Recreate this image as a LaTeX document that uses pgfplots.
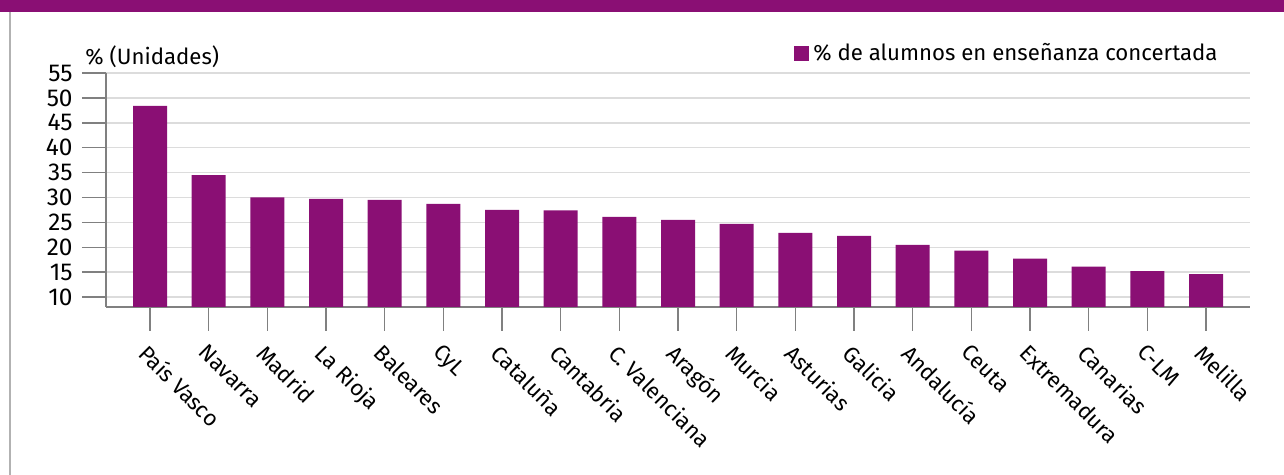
\documentclass[border=0pt]{standalone}
\usepackage{fontspec}
\setmainfont{Fira Sans}
\usepackage{pgfplots}
\pgfplotsset{compat=1.18}
\definecolor{barc}{HTML}{8A0F74}
\definecolor{gridc}{HTML}{DCDCDC}
\definecolor{axc}{HTML}{808080}
\newcommand\lf{\fontsize{11.1}{13}\selectfont}
\begin{document}
\begin{tikzpicture}
\path[use as bounding box] (0pt,0pt) rectangle (642pt,-237.5pt);
\fill[barc] (0pt,0pt) rectangle (642pt,-6pt);
\draw[black!30, line width=0.75pt] (5pt,-6pt) -- (5pt,-237.5pt);
\begin{axis}[
  at={(53pt,-153.5pt)}, anchor=south west,
  scale only axis, width=572pt, height=117pt,
  xmin=-0.75, xmax=18.75, ymin=8, ymax=55,
  ytick={10,15,...,55},
  xtick={0,...,18},
  xticklabels={País Vasco,Navarra,Madrid,La Rioja,Baleares,CyL,Cataluña,Cantabria,C. Valenciana,Aragón,Murcia,Asturias,Galicia,Andalucía,Ceuta,Extremadura,Canarias,C-LM,Melilla},
  axis x line*=bottom, axis y line*=left,
  axis line style={axc, line width=0.75pt},
  ymajorgrids, grid style={gridc, line width=0.75pt},
  tick align=outside, major tick length=12pt,
  tick style={axc, line width=0.75pt},
  /pgf/number format/assume math mode=true,
  yticklabel style={font=\fontsize{12.2}{13}\selectfont, inner sep=0pt, xshift=-4.5pt},
  xticklabel style={font=\lf, rotate=-45, anchor=north west, inner sep=0pt, xshift=4pt, yshift=-4pt},
  legend style={draw=none, fill=none, inner sep=0pt, at={(axis description cs:0.9755,1)}, anchor=south east, yshift=2.5pt, font=\lf},
  legend image code/.code={\fill[barc] (0pt,-3.75pt) rectangle (7.5pt,3.75pt);},
]
\addplot[ybar, fill=barc, draw=none, bar width=17pt] coordinates {
(0,48.4) (1,34.5) (2,30.0) (3,29.7) (4,29.5) (5,28.7) (6,27.5) (7,27.4) (8,26.1) (9,25.5) (10,24.7) (11,22.9) (12,22.3) (13,20.5) (14,19.3) (15,17.7) (16,16.1) (17,15.2) (18,14.6)};
\addlegendentry{\% de alumnos en enseñanza concertada}
\end{axis}
\node[anchor=base west, inner sep=0pt, font=\lf] at (42.5pt,-32.5pt) {\% (Unidades)};
\end{tikzpicture}
\end{document}
